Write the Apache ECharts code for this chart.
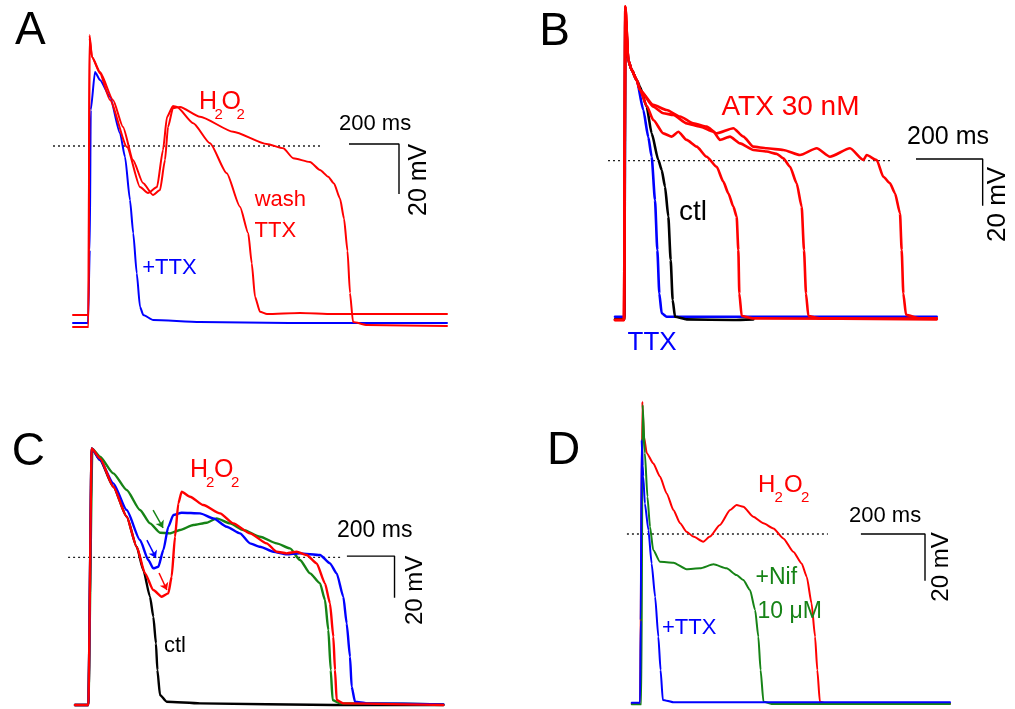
<!DOCTYPE html>
<html>
<head>
<meta charset="utf-8">
<script src="https://cdn.jsdelivr.net/npm/echarts@6/dist/echarts.min.js"></script>
<style>
html,body{margin:0;padding:0;background:#fff;}
#chart{width:1015px;height:709px;}
</style>
</head>
<body>
<div id="chart"></div>
<script>
// ---------- DATA (time in ms, membrane potential in mV) ----------
// Panel A
const A_ttx  = [[-64,-70.8],[-4,-70.8],[3,-41.6],[7,14.4],[24,29.6],[44,26.4],[84,19.7],[124,5.1],[144,-4.3],[164,-21.6],[177,-34.9],[191,-50.9],[204,-64.3],[217,-67.6],[257,-69.6],[444,-70.4],[800,-70.8],[1432,-70.8]];
const A_wash = [[-64,-67.6],[-2,-67.6],[2,43.2],[12,35.6],[44,29],[84,18.4],[152,-0.4],[204,-16.4],[236,-18.8],[272,-16.4],[296,-1.6],[312,11.6],[336,16],[352,15.6],[417,9.1],[484,1.1],[551,-10.9],[604,-24.3],[637,-34.9],[651,-46.9],[664,-60.3],[684,-66.3],[712,-67.2],[844,-66.8],[976,-67.2],[1432,-67.2]];
const A_h2o2 = [[-64,-72.4],[-2,-72.4],[2,44.4],[12,35.6],[44,29.6],[96,18.4],[136,7.6],[176,-5.6],[216,-14.8],[256,-19.6],[284,-17.6],[304,-5.6],[316,7.6],[336,15.2],[364,15.6],[444,11.7],[577,5.7],[711,0.8],[777,-0.9],[817,-4.9],[884,-6.4],[924,-9.6],[957,-12.3],[980,-15],[1004,-21],[1020,-29],[1034,-42],[1044,-58.8],[1056,-70.4],[1112,-71.6],[1432,-72]];
// Panel B
const B_ttx  = [[-30,-66.9],[-2,-66.9],[1,62],[10,43],[20,38.9],[35,34.6],[55,21.7],[70,10],[80,1.7],[90,-16.9],[97,-38.3],[103,-56.9],[110,-65.4],[125,-66.9],[935,-66.9]];
const B_ctl  = [[-30,-68],[-2,-68],[1,62],[10,43],[20,38.9],[35,34.6],[45,31.7],[65,23.1],[80,11.7],[100,0.3],[110,-4],[120,-11.1],[130,-24],[137,-42.6],[143,-59.7],[150,-66.9],[185,-68],[325,-68.3],[385,-68]];
const B_atx1 = [[-30,-68.3],[-3,-68.3],[1,66],[10,43],[20,38.9],[35,34.6],[45,30.3],[65,23.5],[85,17.4],[115,11.7],[140,10.3],[160,12.4],[185,8.9],[215,6],[245,1.7],[275,-2.6],[295,-9],[310,-14],[325,-19.7],[335,-24],[340,-38.3],[343,-56.9],[350,-66.6],[385,-67.6],[935,-68]];
const B_atx2 = [[-30,-68.3],[-3,-68.3],[1,66],[10,43],[20,38.9],[35,34.6],[45,30.3],[85,23.1],[115,20.3],[145,19.6],[185,16],[225,14.6],[265,12.4],[285,8.9],[315,10.3],[345,7.4],[385,4.6],[425,3.9],[455,2.9],[475,1],[495,-2.6],[515,-9.7],[530,-19.7],[537,-38.3],[543,-56.9],[550,-66.6],[585,-67.6],[935,-67.7]];
const B_atx3 = [[-30,-68.3],[-3,-68.3],[1,66],[10,43],[20,38.9],[35,34.6],[45,30.3],[85,23.9],[125,21.7],[165,18.9],[205,16],[245,14.6],[275,11.7],[325,13.9],[355,10.3],[385,6],[425,5.3],[475,4.6],[525,2.4],[575,5.3],[615,1.7],[675,5.3],[715,0.3],[725,2.4],[755,0.3],[775,-6.9],[795,-9.7],[810,-14],[825,-22.6],[830,-38.3],[835,-56.9],[843,-66.1],[885,-67.6],[935,-67.6]];
// Panel C
const C_ctl   = [[-63,-70.9],[-7,-70.9],[7,52.3],[42,46.7],[98,33.9],[154,19.5],[196,5.1],[224,-6.1],[252,-18.9],[266,-28.5],[277,-41.3],[283,-54.1],[294,-66.1],[322,-69.3],[462,-70.1],[1022,-70.9],[1484,-70.9]];
const C_green = [[-63,-70.9],[-7,-70.9],[10,52],[42,48.3],[98,40.3],[154,32.3],[210,22.7],[252,16.3],[294,11.8],[336,11.5],[378,13.1],[434,15.5],[490,16.6],[532,18.7],[588,16.3],[644,13.1],[714,9.9],[784,6.7],[840,4.3],[882,-1.3],[924,-7.7],[966,-12.5],[987,-20.5],[1001,-34.9],[1011,-54.1],[1019,-68.5],[1050,-70.1],[1162,-70.1],[1484,-70.6]];
const C_blue  = [[-63,-70.9],[-7,-70.9],[7,52.3],[42,46.7],[98,35.5],[154,22.7],[210,8.3],[245,-1.3],[266,-5.3],[287,-4.5],[308,3.5],[329,14.7],[350,20.3],[385,21.4],[462,21.1],[518,18.7],[574,14.7],[630,11.5],[672,6.7],[714,5.1],[770,2.7],[826,1.4],[882,1.9],[966,1.1],[1008,-2.9],[1036,-7.7],[1064,-18.9],[1078,-31.7],[1092,-47.7],[1099,-62.1],[1113,-69.3],[1162,-70.1],[1484,-70.6]];
const C_h2o2  = [[-63,-70.9],[-7,-70.9],[7,52.3],[42,47.5],[98,33.9],[154,19.5],[196,5.1],[231,-7.7],[266,-15.7],[301,-18.9],[329,-17.3],[343,-9.3],[357,9.9],[371,25.9],[385,31.5],[420,29.1],[476,25.1],[546,21.1],[602,16.3],[672,11.5],[742,6.7],[784,2.7],[826,1.9],[868,2.7],[910,1.1],[952,-2.9],[987,-12.5],[1008,-22.1],[1022,-38.1],[1029,-54.1],[1036,-68.5],[1064,-70.1],[1484,-70.9]];
// Panel D
const D_h2o2 = [[-31,-72.6],[-5,-72.6],[2,56.7],[7,41.7],[16,34.6],[36,30.3],[57,24.6],[78,17.4],[99,10.3],[120,4.6],[140,1],[161,-1.1],[192,-3.3],[213,-1.1],[244,3.9],[276,10.3],[296,12.4],[317,11.7],[348,7.4],[380,4.6],[411,2.4],[442,-1.9],[473,-7.6],[499,-12.6],[515,-18.3],[530,-29.7],[541,-44],[548,-58.3],[556,-71.9],[577,-72.6],[962,-72.6]];
const D_nif  = [[-31,-73],[-1,-73],[3,55.3],[10,34.6],[18,16],[26,3.1],[36,-6.9],[57,-11.9],[99,-12.3],[140,-15.1],[182,-14.7],[224,-13],[265,-14.7],[296,-17.6],[317,-19.7],[338,-24],[354,-32.6],[364,-44],[371,-58.3],[380,-71.9],[411,-72.9],[962,-72.9]];
const D_ttx  = [[-31,-72.3],[-5,-72.3],[-3,-36.9],[0,40.3],[3,29.1],[5,24.6],[10,13.1],[21,1.7],[31,-12.6],[42,-26.9],[52,-44],[59,-58.3],[66,-71.1],[99,-72.1],[962,-72.1]];

// dotted reference (0 mV) lines
const refA = [[-144,0],[928,0]];
const refB = [[-51,0],[795,0]];
const refC = [[-92,0],[1063,0]];
const refD = [[-46,0],[581,0]];
// scale bars: 200 ms and 20 mV
const barA = [[1040,0.8],[1240,0.8],[1240,-19.2]];
const barB = [[873,0.7],[1073,0.7],[1073,-19.3]];
const barC = [[1079,0.6],[1279,0.6],[1279,-19.4]];
const barD = [[684,0],[884,0],[884,-20]];
// arrows in panel C: [start, end]
const arrowGreenC = [[265,22.7],[307,14.1]];
const arrowBlueC  = [[239,8.3],[277,-0.3]];
const arrowRedC   = [[290,-7.5],[323,-15.7]];

// ---------- LAYOUT ----------
const FONT = '"Liberation Sans", Arial, Helvetica, sans-serif';
const RED = '#ff0000', BLUE = '#0000ff', GREEN = '#168316', BLACK = '#000000';
// pixel calibration of each panel: box [left, top, width, height], origin px and px per unit
const PANELS = [
  {box:[40, 0, 430, 360],   x0:89,     y0:146,    pxMs:0.25,   pxMv:2.5},
  {box:[600, 0, 415, 365],  x0:625,    y0:160.67, pxMs:1/3,    pxMv:7/3},
  {box:[50, 370, 420, 339], x0:90,     y0:557.33, pxMs:1/4.2,  pxMv:1/0.48},
  {box:[600, 370, 415, 339],x0:641.67, y0:534,    pxMs:1/3.12, pxMv:7/3}
];
const grids = [], xAxes = [], yAxes = [];
PANELS.forEach((p, i) => {
  const [l, t, w, h] = p.box;
  grids.push({left:l, top:t, width:w, height:h, containLabel:false, show:false});
  xAxes.push({type:'value', gridIndex:i, show:false, min:(l - p.x0)/p.pxMs, max:(l + w - p.x0)/p.pxMs, splitLine:{show:false}});
  yAxes.push({type:'value', gridIndex:i, show:false, min:(p.y0 - t - h)/p.pxMv, max:(p.y0 - t)/p.pxMv, splitLine:{show:false}});
});

function trace(g, data, color, width) {
  return {type:'line', xAxisIndex:g, yAxisIndex:g, data:data, symbol:'none', showSymbol:false,
    smooth:0.2, smoothMonotone:'x',
    lineStyle:{color:color, width:width, join:'round', cap:'round'}, itemStyle:{color:color},
    animation:false, silent:true, clip:false};
}
function dotted(g, data) {
  return {type:'line', xAxisIndex:g, yAxisIndex:g, data:data, symbol:'none',
    lineStyle:{color:'#222', width:1.3, type:[2,3]}, animation:false, silent:true, clip:false, z:1};
}
function bar(g, data) {
  return {type:'line', xAxisIndex:g, yAxisIndex:g, data:data, symbol:'none',
    lineStyle:{color:BLACK, width:1.4}, animation:false, silent:true, clip:false};
}

const series = [
  dotted(0, refA), bar(0, barA),
  trace(0, A_ttx, BLUE, 2), trace(0, A_wash, RED, 2), trace(0, A_h2o2, RED, 2),
  dotted(1, refB), bar(1, barB),
  trace(1, B_ttx, BLUE, 2.6), trace(1, B_ctl, BLACK, 2.6),
  trace(1, B_atx1, RED, 2.6), trace(1, B_atx2, RED, 2.6), trace(1, B_atx3, RED, 2.6),
  dotted(2, refC), bar(2, barC),
  trace(2, C_ctl, BLACK, 2.4), trace(2, C_green, GREEN, 2.4), trace(2, C_blue, BLUE, 2.4), trace(2, C_h2o2, RED, 2.4),
  {type:'line', xAxisIndex:2, yAxisIndex:2, data:[], silent:true, animation:false,
    markLine:{silent:true, animation:false, symbol:['none','arrow'], symbolSize:7, label:{show:false},
      data:[
        [{coord:arrowGreenC[0], lineStyle:{color:GREEN, width:1.5, type:'solid'}}, {coord:arrowGreenC[1]}],
        [{coord:arrowBlueC[0],  lineStyle:{color:BLUE,  width:1.5, type:'solid'}}, {coord:arrowBlueC[1]}],
        [{coord:arrowRedC[0],   lineStyle:{color:RED,   width:1.5, type:'solid'}}, {coord:arrowRedC[1]}]
      ]}},
  dotted(3, refD), bar(3, barD),
  trace(3, D_h2o2, RED, 2), trace(3, D_nif, GREEN, 2), trace(3, D_ttx, BLUE, 2)
];

// ---------- TEXT ----------
function T(text, x, base, size, color) {
  return {type:'text', x:x, y:base - 0.33*size, silent:true, z:100,
    style:{text:text, font:size + 'px ' + FONT, fill:color, textAlign:'left', verticalAlign:'middle'}};
}
function R(text, cx, bottom, size, color) {
  return {type:'text', x:cx, y:bottom, rotation:Math.PI/2, silent:true, z:100,
    style:{text:text, font:size + 'px ' + FONT, fill:color, textAlign:'left', verticalAlign:'middle'}};
}
function H2O2(x, base, size, subSize, color, gaps) {
  // gaps: x offsets of [sub2, O, sub2] relative to x
  return [T('H', x, base, size, color), T('2', x + gaps[0], base + 10, subSize, color),
          T('O', x + gaps[1], base, size, color), T('2', x + gaps[2], base + 10, subSize, color)];
}
const graphic = [].concat(
  [T('A', 15, 46.7, 46, BLACK), T('B', 539.3, 47.3, 46, BLACK), T('C', 11.7, 467.3, 46, BLACK), T('D', 547, 466.7, 46, BLACK)],
  // A
  H2O2(199, 110, 25, 15, RED, [15.5, 22.5, 37.5]),
  [T('wash', 254.7, 206.7, 22, RED), T('TTX', 254.5, 238.3, 22, RED), T('+TTX', 142.2, 275, 22, BLUE),
   T('200 ms', 339, 131.5, 22, BLACK), R('20 mV', 418.8, 216, 25, BLACK)],
  // B
  [T('ATX 30 nM', 721.5, 116.7, 28, RED), T('ctl', 679, 221.7, 28, BLACK), T('TTX', 627.5, 351.7, 26, BLUE),
   T('200 ms', 907, 145, 25, BLACK), R('20 mV', 997.5, 242, 26, BLACK)],
  // C
  H2O2(190, 478, 25, 15, RED, [16, 24, 41]),
  [T('ctl', 164, 653.3, 22, BLACK), T('200 ms', 337, 538, 23, BLACK), R('20 mV', 415, 625, 24, BLACK)],
  // D
  H2O2(758, 493.3, 24, 15, RED, [16.5, 26, 43]),
  [T('+Nif', 755.5, 585, 23, GREEN), T('10 \u03bcM', 757.5, 619.3, 23, GREEN), T('+TTX', 662, 635, 22, BLUE),
   T('200 ms', 849, 523, 22, BLACK), R('20 mV', 941, 601.7, 24, BLACK)]
);

const chart = echarts.init(document.getElementById('chart'), null, {renderer:'canvas'});
chart.setOption({
  backgroundColor:'#ffffff',
  animation:false,
  grid:grids, xAxis:xAxes, yAxis:yAxes,
  series:series,
  graphic:graphic
});
</script>
</body>
</html>
